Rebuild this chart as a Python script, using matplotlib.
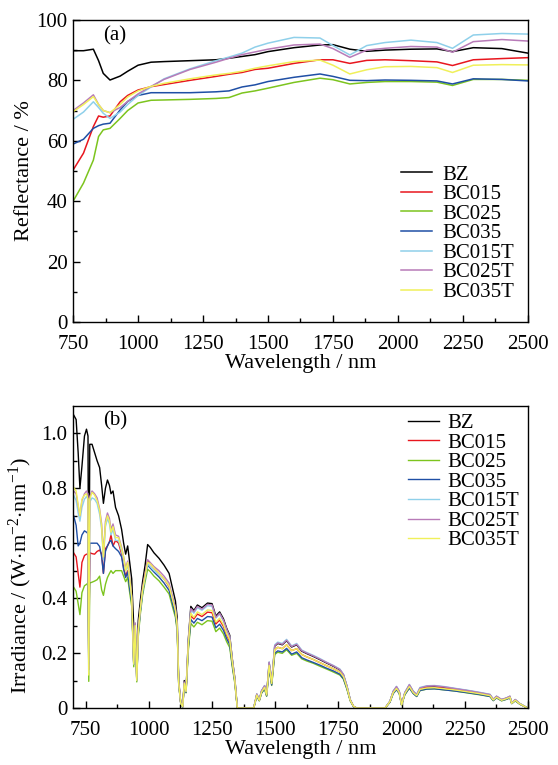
import numpy as np
import matplotlib
matplotlib.use('Agg')
import matplotlib.pyplot as plt
from matplotlib.ticker import MultipleLocator, FixedLocator, FixedFormatter

plt.rcParams['font.family'] = ['Liberation Serif', 'DejaVu Serif']
plt.rcParams['mathtext.fontset'] = 'custom'
plt.rcParams['mathtext.rm'] = 'Liberation Serif'
plt.rcParams['mathtext.it'] = 'Liberation Serif:italic'

names = ['BZ', 'BC015', 'BC025', 'BC035', 'BC015T', 'BC025T', 'BC035T']
colors = ['#000000', '#e8161e', '#7cc41e', '#1f4fa5', '#8fd0ea', '#b87bb8', '#f0f05a']

# (a) reflectance, %
wl_a = [750, 790, 828, 848, 866, 892, 931, 960, 1000, 1050, 1100, 1200, 1300, 1350, 1400,
        1450, 1500, 1600, 1700, 1750, 1815, 1880, 1950, 2050, 2150, 2210, 2290, 2400, 2500]
r_bz = [89.8, 89.8, 90.3, 86.5, 82.3, 80.1, 81.4, 83.0, 85.0, 86.0, 86.2, 86.5, 86.8, 87.3, 87.9,
        88.5, 89.5, 90.8, 91.7, 91.8, 90.3, 89.6, 90.0, 90.3, 90.4, 89.5, 90.8, 90.5, 89.0]
r_bc015 = [50.3, 55.9, 64.7, 68.2, 67.8, 68.2, 72.9, 75.0, 76.8, 77.9, 78.6, 80.0, 81.3, 82.0, 82.6,
           83.6, 84.0, 85.6, 86.8, 86.8, 85.6, 86.6, 86.8, 86.5, 86.1, 84.9, 86.8, 87.2, 87.5]
r_bc025 = [40.0, 46.0, 53.6, 61.4, 63.6, 64.1, 67.4, 70.0, 72.5, 73.4, 73.5, 73.7, 74.0, 74.3, 75.8,
           76.5, 77.4, 79.3, 80.7, 80.2, 78.8, 79.3, 79.6, 79.6, 79.4, 78.3, 80.3, 80.3, 80.0]
r_bc035 = [58.9, 60.5, 64.1, 65.0, 65.5, 65.8, 70.2, 73.0, 75.0, 75.9, 75.9, 75.9, 76.2, 76.5, 77.8,
           78.5, 79.6, 81.0, 82.1, 81.3, 80.0, 79.9, 80.1, 80.0, 79.8, 78.8, 80.5, 80.3, 79.8]
r_bc015t = [67.1, 69.5, 72.9, 71.0, 69.1, 67.4, 69.5, 72.0, 75.0, 77.8, 80.5, 83.8, 86.5, 87.7, 89.0,
            91.0, 92.3, 94.2, 94.0, 91.5, 88.4, 91.5, 92.5, 93.3, 92.5, 90.6, 95.0, 95.5, 95.3]
r_bc025t = [70.0, 72.5, 75.2, 72.0, 70.0, 69.3, 71.0, 73.0, 75.5, 78.0, 80.3, 83.6, 86.0, 87.3, 88.5,
            89.4, 90.3, 91.7, 92.0, 90.5, 87.6, 90.0, 90.6, 91.2, 91.0, 89.3, 92.8, 93.5, 93.0]
r_bc035t = [69.6, 72.0, 74.6, 72.0, 70.0, 69.3, 72.0, 74.5, 76.5, 78.0, 79.0, 80.5, 81.8, 82.3, 83.0,
            84.0, 84.8, 86.2, 86.7, 85.0, 82.1, 83.5, 84.5, 84.6, 84.2, 82.6, 85.0, 85.2, 85.1]

# (b) irradiance, W m-2 nm-1
wl_b = [702, 712, 720, 727, 735, 745, 753, 759, 762, 766, 775, 785, 795, 805, 813, 820, 828, 836,
        844, 850, 858, 868, 880, 892, 900, 908, 916, 924, 932, 940, 946, 952, 958, 966, 975, 985, 995,
        1005, 1020, 1040, 1060, 1080, 1095, 1105, 1112, 1118, 1126, 1134, 1140, 1147, 1156, 1166,
        1178, 1192, 1210, 1232, 1250, 1265, 1280, 1295, 1308, 1320, 1330, 1340, 1350,
        1415, 1427, 1437, 1446, 1458, 1466, 1476, 1486, 1498, 1510, 1528, 1545, 1565, 1585, 1605,
        1625, 1650, 1677, 1703, 1730, 1756, 1770, 1784, 1797, 1810, 1822,
        1935, 1954, 1967, 1980, 1991, 2000, 2013, 2031, 2046, 2060, 2073, 2100, 2130, 2170, 2210,
        2260, 2310, 2350, 2363, 2376, 2396, 2416, 2429, 2436, 2450, 2468, 2495]
e_bz = [1.067, 1.05, 0.93, 0.80, 0.88, 0.99, 1.015, 0.99, 0.22, 0.96, 0.96, 0.93, 0.90, 0.875, 0.81,
        0.745, 0.80, 0.83, 0.81, 0.78, 0.79, 0.73, 0.70, 0.65, 0.60, 0.56, 0.59, 0.53, 0.47, 0.30, 0.25,
        0.20, 0.32, 0.39, 0.46, 0.52, 0.595,
        0.585, 0.565, 0.545, 0.52, 0.49, 0.43, 0.39, 0.33, 0.10, 0.02, 0.005, 0.10, 0.065, 0.25, 0.37,
        0.355, 0.375, 0.365, 0.382, 0.38, 0.335, 0.35, 0.325, 0.29, 0.265, 0.18, 0.11, 0.0,
        0.0, 0.05, 0.03, 0.062, 0.08, 0.05, 0.165, 0.095, 0.225, 0.235, 0.23, 0.245, 0.222, 0.23, 0.207,
        0.198, 0.188, 0.176, 0.164, 0.152, 0.139, 0.121, 0.079, 0.03, 0.006, 0.0,
        0.0, 0.024, 0.06, 0.076, 0.06, 0.012, 0.055, 0.083, 0.06, 0.048, 0.072, 0.078, 0.079, 0.075, 0.07,
        0.063, 0.055, 0.048, 0.031, 0.042, 0.03, 0.036, 0.042, 0.018, 0.03, 0.016, 0.002]
e_bc015 = [0.565, 0.55, 0.49, 0.44, 0.53, 0.555, 0.56, 0.56, 0.14, 0.565, 0.562, 0.56, 0.57, 0.575, 0.56,
           0.49, 0.58, 0.59, 0.605, 0.63, 0.59, 0.61, 0.60, 0.56, 0.51, 0.48, 0.50, 0.44, 0.39, 0.16, 0.30,
           0.10, 0.28, 0.355, 0.43, 0.485, 0.535,
           0.525, 0.51, 0.49, 0.47, 0.442, 0.388, 0.352, 0.298, 0.09, 0.018, 0.005, 0.09, 0.059, 0.226, 0.336,
           0.324, 0.342, 0.333, 0.349, 0.347, 0.306, 0.32, 0.297, 0.265, 0.242, 0.164, 0.10, 0.0,
           0.0, 0.047, 0.028, 0.058, 0.075, 0.047, 0.155, 0.089, 0.212, 0.221, 0.216, 0.23, 0.209, 0.216, 0.195,
           0.186, 0.177, 0.165, 0.154, 0.143, 0.131, 0.114, 0.074, 0.028, 0.006, 0.0,
           0.0, 0.023, 0.058, 0.073, 0.058, 0.012, 0.053, 0.08, 0.058, 0.046, 0.069, 0.075, 0.076, 0.072, 0.067,
           0.06, 0.053, 0.046, 0.03, 0.04, 0.029, 0.035, 0.04, 0.017, 0.029, 0.015, 0.002]
e_bc025 = [0.44, 0.425, 0.38, 0.34, 0.42, 0.445, 0.45, 0.455, 0.097, 0.455, 0.458, 0.462, 0.467, 0.48, 0.43,
           0.41, 0.45, 0.475, 0.49, 0.50, 0.49, 0.50, 0.50, 0.50, 0.48, 0.46, 0.475, 0.42, 0.37, 0.15, 0.28,
           0.095, 0.26, 0.34, 0.41, 0.46, 0.505,
           0.497, 0.48, 0.463, 0.44, 0.415, 0.363, 0.33, 0.28, 0.085, 0.017, 0.004, 0.085, 0.055, 0.209, 0.308,
           0.295, 0.312, 0.303, 0.318, 0.316, 0.278, 0.291, 0.27, 0.241, 0.22, 0.15, 0.091, 0.0,
           0.0, 0.043, 0.026, 0.054, 0.069, 0.043, 0.143, 0.082, 0.195, 0.203, 0.199, 0.212, 0.192, 0.199, 0.179,
           0.171, 0.163, 0.152, 0.142, 0.131, 0.12, 0.105, 0.068, 0.026, 0.005, 0.0,
           0.0, 0.021, 0.053, 0.067, 0.053, 0.011, 0.048, 0.073, 0.053, 0.042, 0.063, 0.069, 0.07, 0.066, 0.062,
           0.055, 0.048, 0.042, 0.027, 0.037, 0.026, 0.032, 0.037, 0.016, 0.026, 0.014, 0.002]
e_bc035 = [0.70, 0.665, 0.59, 0.60, 0.63, 0.645, 0.64, 0.635, 0.16, 0.60, 0.60, 0.60, 0.60, 0.588, 0.55,
           0.49, 0.57, 0.59, 0.605, 0.61, 0.59, 0.58, 0.57, 0.55, 0.505, 0.475, 0.495, 0.435, 0.385, 0.16, 0.29,
           0.10, 0.27, 0.35, 0.42, 0.475, 0.52,
           0.51, 0.495, 0.477, 0.455, 0.428, 0.375, 0.34, 0.288, 0.087, 0.017, 0.004, 0.087, 0.057, 0.218, 0.322,
           0.309, 0.326, 0.318, 0.333, 0.331, 0.292, 0.305, 0.283, 0.252, 0.231, 0.157, 0.096, 0.0,
           0.0, 0.044, 0.027, 0.055, 0.071, 0.044, 0.146, 0.084, 0.199, 0.208, 0.204, 0.217, 0.196, 0.204, 0.183,
           0.175, 0.166, 0.156, 0.145, 0.135, 0.123, 0.107, 0.07, 0.027, 0.005, 0.0,
           0.0, 0.021, 0.053, 0.067, 0.053, 0.011, 0.049, 0.073, 0.053, 0.042, 0.064, 0.069, 0.07, 0.066, 0.062,
           0.056, 0.049, 0.042, 0.027, 0.037, 0.027, 0.032, 0.037, 0.016, 0.027, 0.014, 0.002]
e_bc015t = [0.775, 0.755, 0.71, 0.68, 0.73, 0.76, 0.77, 0.76, 0.13, 0.75, 0.765, 0.76, 0.745, 0.705, 0.65,
            0.54, 0.66, 0.69, 0.67, 0.63, 0.65, 0.61, 0.61, 0.57, 0.54, 0.50, 0.52, 0.465, 0.40, 0.16, 0.30,
            0.10, 0.28, 0.355, 0.425, 0.475, 0.525,
            0.515, 0.50, 0.487, 0.47, 0.447, 0.395, 0.36, 0.305, 0.093, 0.019, 0.005, 0.093, 0.061, 0.24, 0.358,
            0.345, 0.365, 0.356, 0.372, 0.37, 0.327, 0.342, 0.317, 0.283, 0.258, 0.176, 0.108, 0.0,
            0.0, 0.051, 0.031, 0.063, 0.082, 0.051, 0.168, 0.097, 0.23, 0.24, 0.235, 0.25, 0.226, 0.235, 0.211,
            0.202, 0.192, 0.18, 0.167, 0.155, 0.142, 0.123, 0.081, 0.031, 0.006, 0.0,
            0.0, 0.025, 0.062, 0.079, 0.062, 0.012, 0.057, 0.086, 0.062, 0.05, 0.075, 0.081, 0.082, 0.078, 0.072,
            0.065, 0.057, 0.05, 0.032, 0.043, 0.031, 0.037, 0.043, 0.019, 0.031, 0.017, 0.002]
e_bc025t = [0.79, 0.78, 0.735, 0.70, 0.755, 0.78, 0.79, 0.78, 0.14, 0.77, 0.79, 0.78, 0.765, 0.725, 0.67,
            0.56, 0.68, 0.71, 0.69, 0.65, 0.67, 0.63, 0.625, 0.585, 0.55, 0.51, 0.535, 0.475, 0.41, 0.17, 0.31,
            0.11, 0.29, 0.36, 0.44, 0.49, 0.54,
            0.53, 0.515, 0.50, 0.48, 0.455, 0.40, 0.365, 0.31, 0.095, 0.019, 0.005, 0.095, 0.062, 0.245, 0.362,
            0.35, 0.37, 0.36, 0.377, 0.375, 0.33, 0.345, 0.32, 0.286, 0.26, 0.177, 0.108, 0.0,
            0.0, 0.051, 0.03, 0.063, 0.081, 0.051, 0.167, 0.096, 0.227, 0.237, 0.232, 0.247, 0.224, 0.232, 0.209,
            0.2, 0.19, 0.178, 0.166, 0.154, 0.14, 0.122, 0.08, 0.03, 0.006, 0.0,
            0.0, 0.024, 0.061, 0.078, 0.061, 0.012, 0.056, 0.085, 0.061, 0.049, 0.073, 0.08, 0.081, 0.077, 0.071,
            0.064, 0.056, 0.049, 0.032, 0.043, 0.031, 0.037, 0.043, 0.018, 0.031, 0.016, 0.002]
e_bc035t = [0.804, 0.79, 0.74, 0.70, 0.76, 0.775, 0.78, 0.76, 0.12, 0.76, 0.785, 0.775, 0.755, 0.72, 0.66,
            0.55, 0.67, 0.70, 0.68, 0.64, 0.66, 0.62, 0.62, 0.58, 0.55, 0.50, 0.53, 0.47, 0.40, 0.16, 0.30,
            0.10, 0.28, 0.36, 0.43, 0.48, 0.53,
            0.525, 0.51, 0.49, 0.47, 0.445, 0.39, 0.355, 0.30, 0.09, 0.018, 0.005, 0.09, 0.06, 0.23, 0.345,
            0.33, 0.35, 0.34, 0.357, 0.355, 0.313, 0.327, 0.303, 0.27, 0.247, 0.168, 0.10, 0.0,
            0.0, 0.047, 0.028, 0.058, 0.075, 0.047, 0.155, 0.089, 0.212, 0.221, 0.216, 0.23, 0.209, 0.216, 0.195,
            0.186, 0.177, 0.165, 0.154, 0.143, 0.131, 0.114, 0.074, 0.028, 0.006, 0.0,
            0.0, 0.023, 0.056, 0.071, 0.056, 0.011, 0.052, 0.078, 0.056, 0.045, 0.068, 0.073, 0.074, 0.07, 0.066,
            0.059, 0.052, 0.045, 0.029, 0.039, 0.028, 0.034, 0.039, 0.017, 0.028, 0.015, 0.002]

refl = [r_bz, r_bc015, r_bc025, r_bc035, r_bc015t, r_bc025t, r_bc035t]
irr = [e_bz, e_bc015, e_bc025, e_bc035, e_bc015t, e_bc025t, e_bc035t]

fig = plt.figure(figsize=(5.58, 7.65), dpi=100)
ax1 = fig.add_axes([0.131, 0.579, 0.815, 0.395])
ax2 = fig.add_axes([0.131, 0.0745, 0.815, 0.395])

for name, c, r in zip(names, colors, refl):
    ax1.plot(wl_a, r, color=c, lw=1.1, label=name)
for name, c, e in zip(names, colors, irr):
    ax2.plot(wl_b, e, color=c, lw=1.0, label=name)

def style(ax):
    ax.tick_params(which='both', direction='in', top=False, right=False, labelsize=15)
    ax.tick_params(axis='x', which='major', pad=9)
    ax.tick_params(axis='y', which='major', pad=4)
    ax.tick_params(which='major', length=5, width=1)
    ax.tick_params(which='minor', length=3, width=1)
    for s in ax.spines.values():
        s.set_linewidth(1.0)
    ax.set_xlabel('Wavelength / nm', fontsize=16, labelpad=0)

# panel (a)
ax1.set_xlim(750, 2500)
ax1.set_ylim(0, 100)
ax1.xaxis.set_major_locator(MultipleLocator(250))
ax1.xaxis.set_minor_locator(MultipleLocator(125))
ax1.yaxis.set_major_locator(MultipleLocator(20))
ax1.yaxis.set_minor_locator(MultipleLocator(10))
style(ax1)
ax1.set_ylabel('Reflectance / %', fontsize=16)
ax1.yaxis.set_label_coords(-0.086, 0.5)
ax1.text(0.066, 0.947, '(a)', transform=ax1.transAxes, fontsize=15, va='center', ha='left')
ax1.legend(loc='upper left', bbox_to_anchor=(0.72, 0.52), frameon=False, fontsize=15,
           handlelength=1.5, handletextpad=0.5, labelspacing=0.0, borderpad=0, borderaxespad=0)

# panel (b)
ax2.set_xlim(700, 2500)
ax2.set_ylim(0, 1.1)
ax2.xaxis.set_major_locator(FixedLocator([750, 1000, 1250, 1500, 1750, 2000, 2250, 2500]))
ax2.xaxis.set_minor_locator(FixedLocator([875, 1125, 1375, 1625, 1875, 2125, 2375]))
ax2.yaxis.set_major_locator(FixedLocator([0, 0.2, 0.4, 0.6, 0.8, 1.0]))
ax2.yaxis.set_major_formatter(FixedFormatter(['0', '0.2', '0.4', '0.6', '0.8', '1.0']))
ax2.yaxis.set_minor_locator(FixedLocator([0.1, 0.3, 0.5, 0.7, 0.9]))
style(ax2)
ax2.set_ylabel('Irradiance / (W$\\cdot$m$^{-2}$$\\cdot$nm$^{-1}$)', fontsize=16)
ax2.yaxis.set_label_coords(-0.086, 0.44)
ax2.text(0.066, 0.95, '(b)', transform=ax2.transAxes, fontsize=15, va='center', ha='left')
ax2.legend(loc='upper left', bbox_to_anchor=(0.736, 0.975), frameon=False, fontsize=15,
           handlelength=1.5, handletextpad=0.4, labelspacing=0.0, borderpad=0, borderaxespad=0)

fig.savefig('out.png', dpi=100)
